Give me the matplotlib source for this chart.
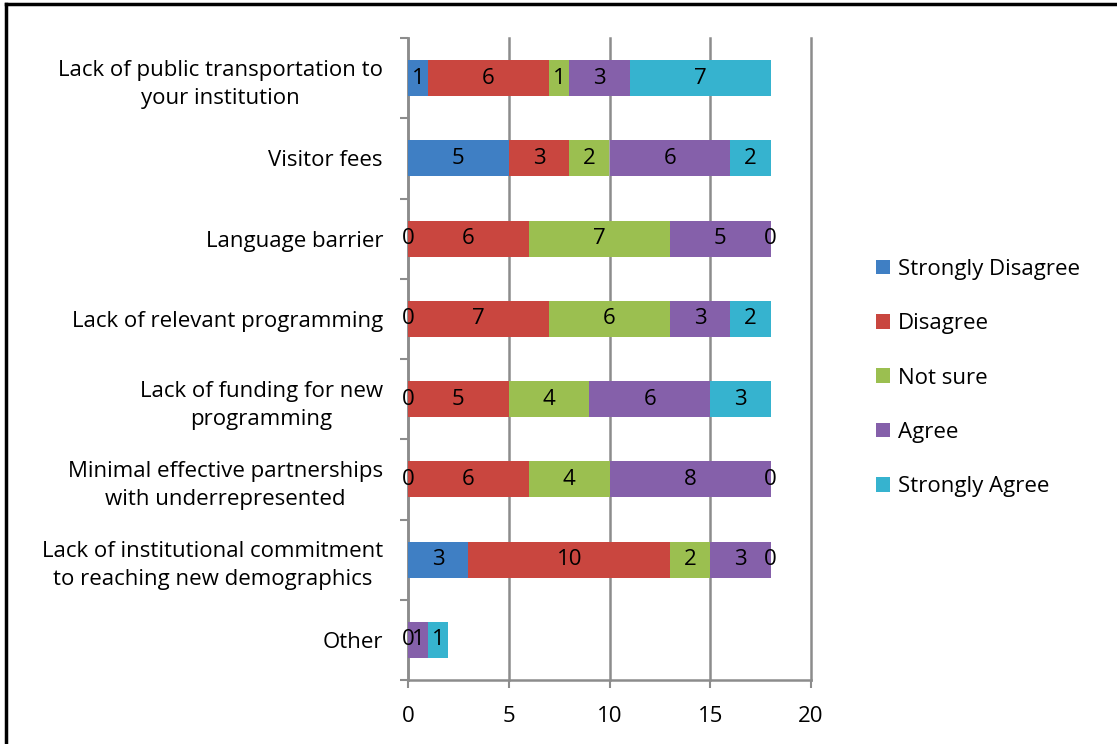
import matplotlib.pyplot as plt
from matplotlib.lines import Line2D
import numpy as np

plt.rcParams['font.family'] = ['Open Sans', 'DejaVu Sans']

categories = ['Lack of public transportation to\nyour institution',
              'Visitor fees',
              'Language barrier',
              'Lack of relevant programming',
              'Lack of funding for new\nprogramming',
              'Minimal effective partnerships\nwith underrepresented',
              'Lack of institutional commitment\nto reaching new demographics',
              'Other']

series = ['Strongly Disagree', 'Disagree', 'Not sure', 'Agree', 'Strongly Agree']
strongly_disagree = [1, 5, 0, 0, 0, 0, 3, 0]
disagree = [6, 3, 6, 7, 5, 6, 10, None]
not_sure = [1, 2, 7, 6, 4, 4, 2, None]
agree = [3, 6, 5, 3, 6, 8, 3, 1]
strongly_agree = [7, 2, 0, 2, 3, 0, 0, 1]

colors = ['#3f7fc4', '#c9463f', '#9bbf50', '#8560aa', '#36b3cf']

fig = plt.figure(figsize=(11.17, 7.44), dpi=100)
ax = fig.add_axes([408 / 1117, 1 - 680 / 744, (811 - 408) / 1117, (680 - 38) / 744])

y = np.arange(len(categories))
left = np.zeros(len(categories))
for name, vals, c in zip(series, [strongly_disagree, disagree, not_sure, agree, strongly_agree], colors):
    v = np.array([0 if x is None else x for x in vals], dtype=float)
    ax.barh(y, v, left=left, height=0.45, color=c, label=name, zorder=3)
    for i, x in enumerate(vals):
        if x is None:
            continue
        ax.text(left[i] + v[i] / 2, y[i], str(x), ha='center', va='center',
                fontsize=16, color='black', zorder=4)
    left += v

ax.set_xlim(0, 20)
ax.set_ylim(len(categories) - 0.5, -0.5)
ax.set_xticks([0, 5, 10, 15, 20])
ax.set_yticks(y)
ax.set_yticklabels(categories, fontsize=16, multialignment='center', linespacing=1.45)
ax.set_yticks(np.arange(len(categories) + 1) - 0.5, minor=True)
ax.tick_params(axis='y', which='major', length=0, pad=18)
ax.tick_params(axis='y', which='minor', length=6, color='#8c8c8c', width=1.5, direction='out')
ax.tick_params(axis='x', length=6, color='#8c8c8c', width=1.5, labelsize=16, pad=13)
ax.grid(axis='x', color='#8c8c8c', linewidth=1.8, zorder=0)
for gl in ax.get_xgridlines():
    gl.set_clip_on(False)
for s in ['top', 'right']:
    ax.spines[s].set_visible(False)
for s in ['left', 'bottom']:
    ax.spines[s].set_color('#8c8c8c')
    ax.spines[s].set_linewidth(1.8)

leg = fig.legend(loc='center left', bbox_to_anchor=(856 / 1117, 1 - 378 / 744), frameon=False,
                 fontsize=16, handlelength=0.65, handleheight=0.65, handletextpad=0.35, labelspacing=1.5)

fig.add_artist(Line2D([6 / 1117, 6 / 1117], [0, 1 - 4 / 744], color='black', linewidth=2.5))
fig.add_artist(Line2D([6 / 1117, 1], [1 - 4 / 744, 1 - 4 / 744], color='black', linewidth=2.5))

fig.savefig('out.png', dpi=100)
